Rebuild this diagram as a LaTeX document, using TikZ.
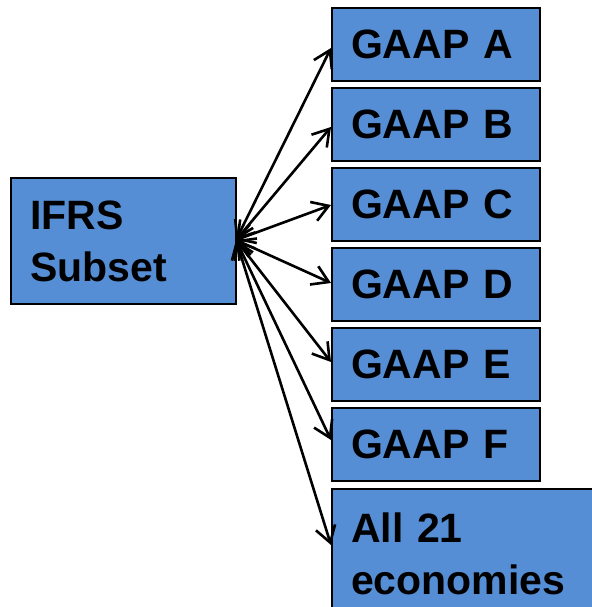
\documentclass[tikz,border=0pt]{standalone}
\usepackage{fontspec}
\setmainfont{Liberation Sans}
\usetikzlibrary{arrows.meta}
\definecolor{boxblue}{HTML}{558ED5}
\begin{document}
\begin{tikzpicture}[x=1pt,y=-1pt,
  box/.style={draw=black, line width=2pt, fill=boxblue, text=black,
    font=\fontsize{41}{52}\selectfont\bfseries, anchor=north west, align=left,
    inner xsep=19pt, inner ysep=0pt},
  gaap/.style={box, minimum width=208pt, minimum height=73pt, text width=170pt},
  tip/.tip={Straight Barb[length=16pt,width=20pt,line width=2.6pt]},
  link/.style={line width=2.6pt, tip-tip}]
\useasboundingbox (0,0) rectangle (591,607);
\node[box, minimum width=225pt, minimum height=126pt, text width=187pt] (ifrs) at (10,177) {IFRS\\Subset};
\node[gaap] (a) at (331,7) {GAAP A};
\node[gaap] (b) at (331,87) {GAAP B};
\node[gaap] (c) at (331,167) {GAAP C};
\node[gaap] (d) at (331,247) {GAAP D};
\node[gaap] (e) at (331,327) {GAAP E};
\node[gaap] (f) at (331,407) {GAAP F};
\node[box, minimum width=275pt, minimum height=130pt, text width=237pt] (all) at (331,488) {All 21\\economies};
\coordinate (o) at (236,240);
\coordinate (ta) at (331,48);
\coordinate (tb) at (331,127);
\coordinate (tc) at (331,205);
\coordinate (td) at (331,283);
\coordinate (te) at (331,362);
\coordinate (tf) at (331,440);
\coordinate (tg) at (331,545);
\foreach \t in {ta,tb,tc,td,te,tf,tg} \draw[link] (o) -- (\t);
\end{tikzpicture}
\end{document}
